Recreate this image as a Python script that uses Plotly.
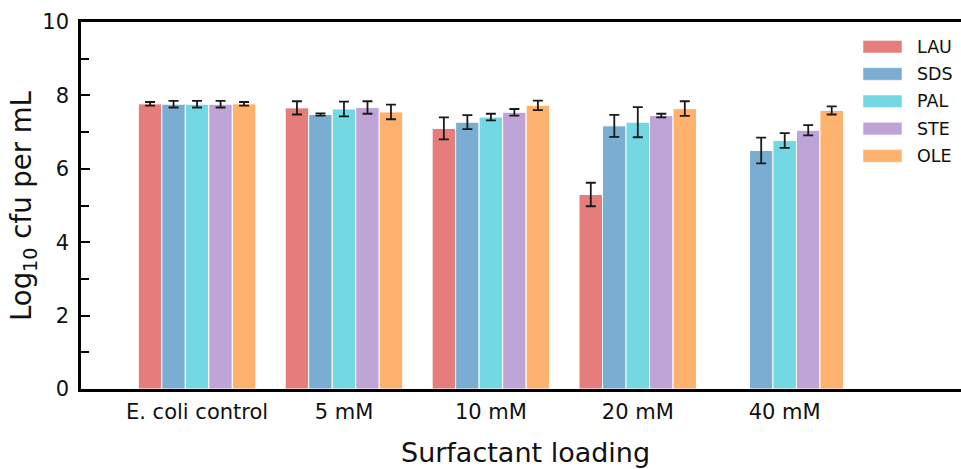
import plotly.graph_objects as go

categories = ["E. coli control", "5 mM", "10 mM", "20 mM", "40 mM"]
series_names = ["LAU", "SDS", "PAL", "STE", "OLE"]
lau = [7.77, 7.66, 7.10, 5.30, None]
sds = [7.76, 7.48, 7.27, 7.17, 6.50]
pal = [7.76, 7.63, 7.41, 7.27, 6.77]
ste = [7.76, 7.67, 7.54, 7.45, 7.05]
ole = [7.77, 7.55, 7.73, 7.64, 7.59]
lau_err = [0.05, 0.18, 0.30, 0.32, None]
sds_err = [0.09, 0.03, 0.19, 0.30, 0.35]
pal_err = [0.09, 0.20, 0.09, 0.41, 0.20]
ste_err = [0.09, 0.17, 0.09, 0.05, 0.14]
ole_err = [0.05, 0.20, 0.13, 0.20, 0.11]
colors = ["#e67d7d", "#79add2", "#74d8e2", "#bfa4d7", "#ffb26e"]
y_ticks = [0, 2, 4, 6, 8, 10]

values = [lau, sds, pal, ste, ole]
errors = [lau_err, sds_err, pal_err, ste_err, ole_err]

FONT = "DejaVu Sans"
W, H = 961, 469
ML, MR, MT, MB = 81, 0, 22, 80
PW = W - ML - MR
PH = H - MT - MB

fig = go.Figure()
for name, vals, errs, col in zip(series_names, values, errors, colors):
    fig.add_trace(go.Bar(
        x=categories, y=vals, name=name,
        marker=dict(color=col, line=dict(color="white", width=1)),
        error_y=dict(type="data", array=errs, visible=True,
                     color="#1a1a1a", thickness=1.8, width=5),
        showlegend=False,
    ))

def px_x(px):
    return (px - ML) / PW

def px_y(py):
    return (H - MB - py) / PH

# manual legend (matplotlib style wide patches)
shapes = []
annotations = []
row0, step = 46.7, 27.3
for i, (name, col) in enumerate(zip(series_names, colors)):
    cy = row0 + i * step
    shapes.append(dict(type="rect", xref="paper", yref="paper",
                       x0=px_x(863), x1=px_x(902),
                       y0=px_y(cy + 6.3), y1=px_y(cy - 6.3),
                       fillcolor=col, line=dict(color="white", width=0.5)))
    annotations.append(dict(x=px_x(915), y=px_y(cy), xref="paper", yref="paper",
                            text=name, showarrow=False, xanchor="left", yanchor="middle",
                            font=dict(family=FONT, size=17.5, color="#111111")))

annotations.append(dict(x=px_x(525), y=px_y(453), xref="paper", yref="paper",
                        text="Surfactant loading", showarrow=False,
                        xanchor="center", yanchor="middle",
                        font=dict(family=FONT, size=27, color="#111111")))
annotations.append(dict(x=px_x(23), y=px_y(206), xref="paper", yref="paper",
                        text="Log<sub>10</sub> cfu per mL", showarrow=False, textangle=-90,
                        xanchor="center", yanchor="middle",
                        font=dict(family=FONT, size=27.5, color="#111111")))

fig.update_layout(
    width=W, height=H,
    margin=dict(l=ML, r=MR, t=MT, b=MB, pad=0),
    paper_bgcolor="white", plot_bgcolor="white",
    barmode="group", bargap=0.2, bargroupgap=0,
    font=dict(family=FONT, size=21, color="#111111"),
    shapes=shapes, annotations=annotations,
    xaxis=dict(range=[-0.79, 5.2], showline=True, linecolor="black", linewidth=2.6,
               mirror=True, ticks="", showgrid=False, zeroline=False,
               tickfont=dict(family=FONT, size=21, color="#111111"),
               ticklabelstandoff=2),
    yaxis=dict(range=[0, 10], tickvals=y_ticks, showline=True, linecolor="black",
               linewidth=2.6, mirror=False, ticks="inside", ticklen=9, tickwidth=2,
               tickcolor="black", showgrid=False, zeroline=False,
               tickfont=dict(family=FONT, size=21, color="#111111"),
               ticklabelstandoff=5,
               minor=dict(dtick=1, tick0=0, ticks="inside", ticklen=8, tickwidth=2,
                          tickcolor="black", showgrid=False)),
)

fig.write_html("out.html")
